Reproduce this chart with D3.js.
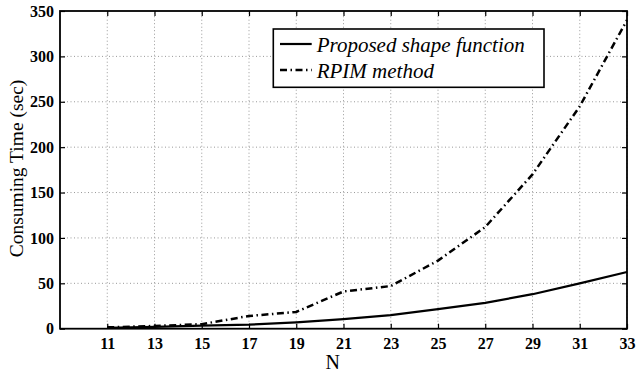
<!DOCTYPE html>
<html><head><meta charset="utf-8">
<script src="https://cdn.jsdelivr.net/npm/d3@7"></script>
<style>
html,body{margin:0;padding:0;background:#fff;}
svg{display:block;}
</style></head>
<body>
<svg id="chart" width="636" height="379"></svg>
<script>
const nValues = [11,13,15,17,19,21,23,25,27,29,31,33];
const proposedTimes = [1,2,3.3,4.4,7,10.5,15,21.5,28.5,38,50,62.5];
const rpimTimes = [1.5,3,5,14,18.5,41,47,75,112,170,245,340];
const xTickLabels = [11,13,15,17,19,21,23,25,27,29,31,33];
const yTickLabels = [0,50,100,150,200,250,300,350];
const seriesNames = ["Proposed shape function","RPIM method"];
const axisTitles = {x:"N", y:"Consuming Time (sec)"};

const W=636,H=379;
const m={left:60,top:11,right:9,bottom:50.3};
const svg=d3.select("#chart");
const x=d3.scaleLinear().domain([9,33]).range([m.left,W-m.right]);
const y=d3.scaleLinear().domain([0,350]).range([H-m.bottom,m.top]);
const serif="'Liberation Serif','Times New Roman',serif";

// grid
const g=svg.append("g");
g.selectAll(".gx").data(xTickLabels).enter().append("line")
 .attr("x1",d=>x(d)).attr("x2",d=>x(d)).attr("y1",y(0)).attr("y2",y(350))
 .attr("stroke","#999").attr("stroke-width",1).attr("stroke-dasharray","1,2.5");
g.selectAll(".gy").data(yTickLabels.filter(v=>v>0&&v<350)).enter().append("line")
 .attr("y1",d=>y(d)).attr("y2",d=>y(d)).attr("x1",x(9)).attr("x2",x(33))
 .attr("stroke","#999").attr("stroke-width",1).attr("stroke-dasharray","1,2.5");

// axes
const ax=d3.axisBottom(x).tickValues(xTickLabels).tickSizeInner(-5).tickSizeOuter(0).tickPadding(9);
const ay=d3.axisLeft(y).tickValues(yTickLabels).tickSizeInner(-5).tickSizeOuter(0).tickPadding(6);
const gx=svg.append("g").attr("transform",`translate(0,${y(0)})`).call(ax);
const gy=svg.append("g").attr("transform",`translate(${x(9)},0)`).call(ay);
const gxt=svg.append("g").attr("transform",`translate(0,${y(350)})`).call(d3.axisTop(x).tickValues(xTickLabels).tickSizeInner(-5).tickSizeOuter(0).tickFormat(""));
const gyr=svg.append("g").attr("transform",`translate(${x(33)},0)`).call(d3.axisRight(y).tickValues(yTickLabels).tickSizeInner(-5).tickSizeOuter(0).tickFormat(""));
[gx,gy,gxt,gyr].forEach(a=>{
  a.select(".domain").remove();
  a.selectAll(".tick line").attr("stroke","#000").attr("stroke-width",1.2);
  a.selectAll("text").attr("font-family",serif).attr("font-size",16).attr("font-weight","bold").attr("fill","#000");
});
svg.append("rect").attr("x",x(9)).attr("y",y(350)).attr("width",x(33)-x(9)).attr("height",y(0)-y(350))
 .attr("fill","none").attr("stroke","#000").attr("stroke-width",1.8);

// lines
const line=d3.line().x((d,i)=>x(nValues[i])).y(d=>y(d));
svg.append("path").datum(proposedTimes).attr("d",line).attr("fill","none").attr("stroke","#000").attr("stroke-width",2.2);
svg.append("path").datum(rpimTimes).attr("d",line).attr("fill","none").attr("stroke","#000").attr("stroke-width",2.5)
 .attr("stroke-dasharray","7,3.5,1.5,3.5");

// axis titles
svg.append("text").attr("x",332.7).attr("y",369).attr("text-anchor","middle")
 .attr("font-family",serif).attr("font-size",20).text(axisTitles.x);
svg.append("text").attr("transform","translate(23,168.5) rotate(-90)").attr("text-anchor","middle")
 .attr("font-family",serif).attr("font-size",19.5).text(axisTitles.y);

// legend
const lg=svg.append("g");
lg.append("rect").attr("x",273.3).attr("y",29).attr("width",270.7).attr("height",58.3)
 .attr("fill","#fff").attr("stroke","#000").attr("stroke-width",1.6);
const rows=[{name:seriesNames[0],dash:null,w:2.2,yl:44,yb:52.3},{name:seriesNames[1],dash:"7,3.5,1.5,3.5",w:2.5,yl:70,yb:78.3}];
rows.forEach(r=>{
  const l=lg.append("line").attr("x1",280).attr("x2",311.7).attr("y1",r.yl).attr("y2",r.yl).attr("stroke","#000").attr("stroke-width",r.w);
  if(r.dash) l.attr("stroke-dasharray",r.dash);
  lg.append("text").attr("x",316.7).attr("y",r.yb).attr("font-family",serif).attr("font-style","italic").attr("font-size",21).text(r.name);
});
</script>
</body></html>
